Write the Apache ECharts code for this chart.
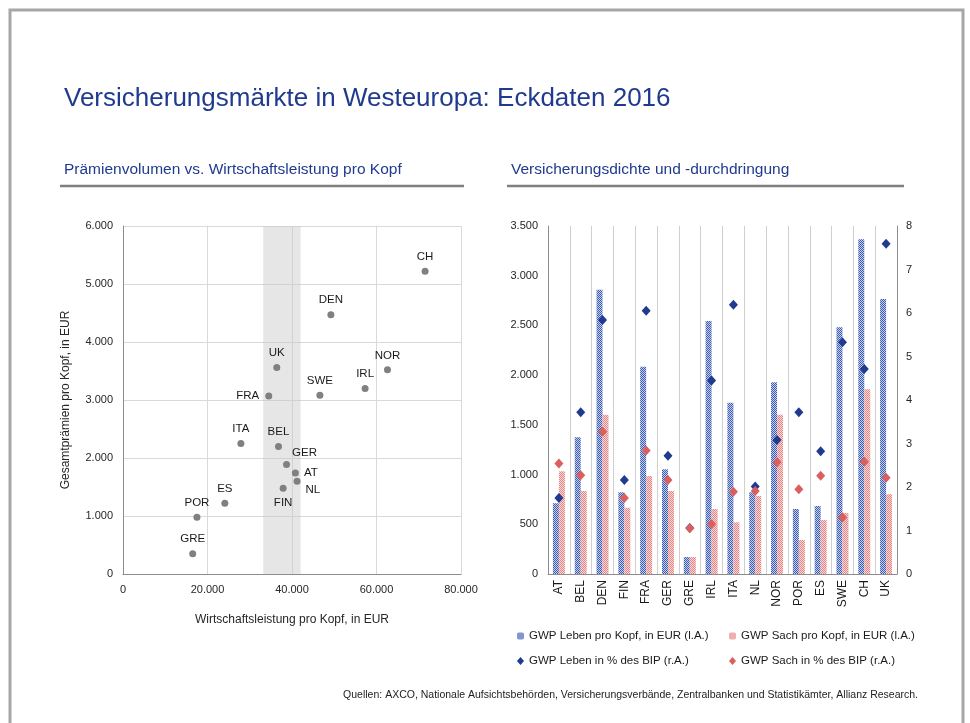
<!DOCTYPE html>
<html>
<head>
<meta charset="utf-8">
<title>Versicherungsmärkte in Westeuropa</title>
<script src="https://cdn.jsdelivr.net/npm/echarts@6/dist/echarts.min.js"></script>
<style>
    *{ margin:0; padding:0; }
    body{ background:#fff; }
    #main{ width:970px; height:723px; }
</style>
</head>
<body>
<div id="main"></div>
<script>
// Streudiagramm: Wirtschaftsleistung vs. Prämien pro Kopf
var scatterNames = ['CH','DEN','UK','NOR','IRL','SWE','FRA','ITA','BEL','GER','AT','NL','FIN','ES','POR','GRE'];
var gdpPerHead   = [71500,49200,36400,62600,57300,46600,34500,27900,36800,38700,40800,41200,37900,24100,17500,16500];
var premPerHead  = [5220,4470,3560,3520,3200,3080,3070,2250,2200,1890,1740,1600,1480,1220,980,350];
var bandRange    = [33200, 42050];

// Balken + Rauten: Dichte und Durchdringung
var countries  = ['AT','BEL','DEN','FIN','FRA','GER','GRE','IRL','ITA','NL','NOR','POR','ES','SWE','CH','UK'];
var lifePerHead = [712,1375,2860,822,2085,1053,171,2544,1722,822,1928,654,684,2481,3366,2766];
var nonLifePerHead = [1033,835,1602,667,986,835,171,654,520,785,1602,342,543,613,1858,802];
var lifePctGdp = [1.75,3.72,5.84,2.16,6.05,2.72,1.06,4.45,6.19,2.01,3.08,3.72,2.82,5.33,4.71,7.59];
var nonLifePctGdp = [2.54,2.27,3.27,1.75,2.84,2.16,1.05,1.15,1.89,1.91,2.57,1.95,2.26,1.30,2.58,2.21];

var navy = '#1f3a8f';
var font = 'Liberation Sans, Arial, sans-serif';

// label-Positionen der Punkte
var labelPos = {
    FRA: {position:'left', distance:6},
    GER: {position:'top', offset:[18,3]},
    AT:  {position:'right', distance:5},
    NL:  {position:'right', distance:5, offset:[0,9]},
    FIN: {position:'bottom', distance:5}
};

function deNum(v){
    return String(v).replace(/\B(?=(\d{3})+(?!\d))/g, '.');
}

// kleines Schachbrettmuster wie im Original
function checker(c1, c2){
    var cv = document.createElement('canvas');
    cv.width = 2; cv.height = 2;
    var ctx = cv.getContext('2d');
    ctx.fillStyle = c2; ctx.fillRect(0,0,2,2);
    ctx.fillStyle = c1; ctx.fillRect(0,0,1,1); ctx.fillRect(1,1,1,1);
    return {image: cv, repeat: 'repeat'};
}
var bluePat = checker('#3f5fae', '#c3cdee');
var redPat = checker('#e58585', '#f9d8d8');

var scatterData = [];
for (var i = 0; i < scatterNames.length; i++) {
    var item = {name: scatterNames[i], value: [gdpPerHead[i], premPerHead[i]]};
    if (labelPos[scatterNames[i]]) item.label = labelPos[scatterNames[i]];
    scatterData.push(item);
}

var tickLbl = {color:'#262626', fontSize:11, fontFamily:font};
var axisLn = {show:true, lineStyle:{color:'#8c8c8c', width:1}};
var legTxt = {fontSize:11.5, color:'#1a1a1a'};

var chart = echarts.init(document.getElementById('main'));
chart.setOption({
    animation: false,
    textStyle: {fontFamily: font},
    title: [
        {text:'Versicherungsmärkte in Westeuropa: Eckdaten 2016', left:59, top:81,
         textStyle:{color:navy, fontSize:26, fontWeight:'normal', fontFamily:font}},
        {text:'Prämienvolumen vs. Wirtschaftsleistung pro Kopf', left:59, top:157,
         textStyle:{color:navy, fontSize:15.5, fontWeight:'normal', fontFamily:font}},
        {text:'Versicherungsdichte und -durchdringung', left:506, top:157,
         textStyle:{color:navy, fontSize:15.5, fontWeight:'normal', fontFamily:font}}
    ],
    graphic: [
        {type:'rect', shape:{x:10, y:10, width:953, height:740}, style:{fill:'none', stroke:'#a6a6a6', lineWidth:3}},
        {type:'line', shape:{x1:60, y1:186, x2:464, y2:186}, style:{stroke:'#7f7f7f', lineWidth:2.5}},
        {type:'line', shape:{x1:507, y1:186, x2:904, y2:186}, style:{stroke:'#7f7f7f', lineWidth:2.5}},
        {type:'text', right:52, top:690, style:{text:'Quellen: AXCO, Nationale Aufsichtsbehörden, Versicherungsverbände, Zentralbanken und Statistikämter, Allianz Research.',
            fill:'#222', font:'10.5px ' + font}}
    ],
    legend: [
        {left:512, top:625, itemWidth:7, itemHeight:7, data:['GWP Leben pro Kopf, in EUR (l.A.)'], textStyle:legTxt},
        {left:724, top:625, itemWidth:7, itemHeight:7, data:['GWP Sach pro Kopf, in EUR (l.A.)'], textStyle:legTxt},
        {left:512, top:650, itemWidth:7, itemHeight:8, data:[{name:'GWP Leben in % des BIP (r.A.)', icon:'diamond'}], textStyle:legTxt},
        {left:724, top:650, itemWidth:7, itemHeight:8, data:[{name:'GWP Sach in % des BIP (r.A.)', icon:'diamond'}], textStyle:legTxt}
    ],
    grid: [
        {left:123, right:509, top:226, bottom:149},
        {left:548, right:73, top:226, bottom:149}
    ],
    xAxis: [
        {type:'value', gridIndex:0, min:0, max:80000, interval:20000,
         name:'Wirtschaftsleistung pro Kopf, in EUR', nameLocation:'middle', nameGap:40,
         nameTextStyle:{color:'#262626', fontSize:12},
         axisLine:axisLn, axisTick:{show:false},
         axisLabel:Object.assign({formatter:deNum, margin:10}, tickLbl),
         splitLine:{lineStyle:{color:'#d9d9d9'}}},
        {type:'category', gridIndex:1, data:countries,
         axisLine:axisLn, axisTick:{show:false},
         axisLabel:{rotate:90, color:'#1a1a1a', fontSize:12, margin:6, fontFamily:font},
         splitLine:{show:true, lineStyle:{color:'#cfcfcf'}}}
    ],
    yAxis: [
        {type:'value', gridIndex:0, min:0, max:6000, interval:1000,
         name:'Gesamtprämien pro Kopf, in EUR', nameLocation:'middle', nameGap:51,
         nameTextStyle:{color:'#262626', fontSize:12},
         axisLine:axisLn, axisTick:{show:false},
         axisLabel:Object.assign({formatter:deNum, margin:10}, tickLbl),
         splitLine:{lineStyle:{color:'#d9d9d9'}}},
        {type:'value', gridIndex:1, min:0, max:3500, interval:500,
         axisLine:axisLn, axisTick:{show:false},
         axisLabel:Object.assign({formatter:deNum, margin:10}, tickLbl),
         splitLine:{show:false}},
        {type:'value', gridIndex:1, position:'right', min:0, max:8, interval:1,
         axisLine:axisLn, axisTick:{show:false},
         axisLabel:Object.assign({margin:9}, tickLbl),
         splitLine:{show:false}}
    ],
    series: [
        {type:'scatter', xAxisIndex:0, yAxisIndex:0, symbolSize:7,
         itemStyle:{color:'#808080', opacity:1},
         label:{show:true, formatter:'{b}', position:'top', distance:5, color:'#1a1a1a', fontSize:11.5},
         data:scatterData,
         markArea:{silent:true, itemStyle:{color:'rgba(200,200,200,0.45)'},
                   data:[[{xAxis:bandRange[0]}, {xAxis:bandRange[1]}]]}},
        {type:'bar', name:'GWP Leben pro Kopf, in EUR (l.A.)', xAxisIndex:1, yAxisIndex:1,
         barWidth:6, barGap:'0%', itemStyle:{color:bluePat}, data:lifePerHead},
        {type:'bar', name:'GWP Sach pro Kopf, in EUR (l.A.)', xAxisIndex:1, yAxisIndex:1,
         barWidth:6, barGap:'0%', itemStyle:{color:redPat}, data:nonLifePerHead},
        {type:'scatter', name:'GWP Leben in % des BIP (r.A.)', xAxisIndex:1, yAxisIndex:2,
         symbol:'diamond', symbolSize:[9,10], itemStyle:{color:navy, opacity:1}, data:lifePctGdp},
        {type:'scatter', name:'GWP Sach in % des BIP (r.A.)', xAxisIndex:1, yAxisIndex:2,
         symbol:'diamond', symbolSize:[9,10], itemStyle:{color:'#d9605f', opacity:1}, data:nonLifePctGdp}
    ]
});
</script>
</body>
</html>
